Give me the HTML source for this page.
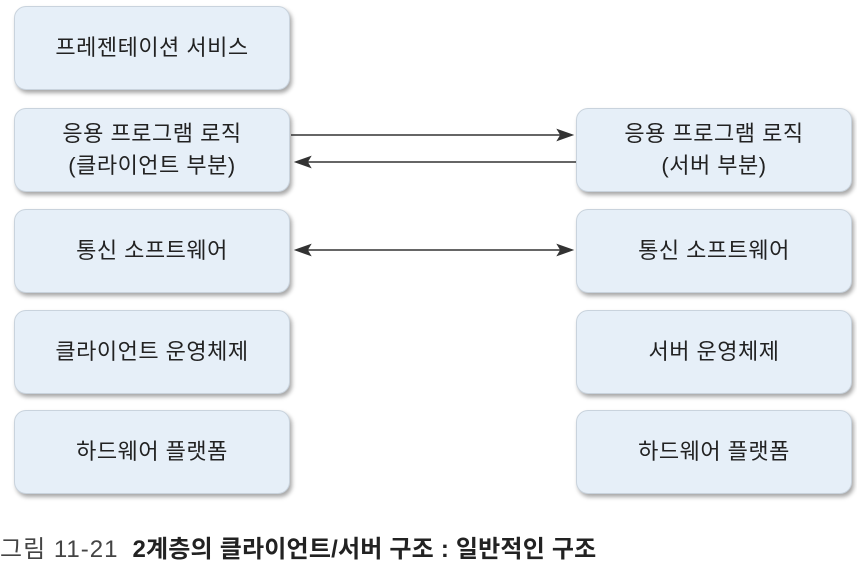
<!DOCTYPE html>
<html><head><meta charset="utf-8"><style>
body{margin:0;width:857px;height:557px;background:#fff;position:relative;overflow:hidden;font-family:"Liberation Sans","Noto Sans CJK KR",sans-serif;}
.b{position:absolute;width:274px;height:82px;background:#e6eff8;border:1px solid #c9d3dd;border-radius:12px;box-shadow:2px 3px 4px rgba(0,0,0,0.35);display:flex;align-items:center;justify-content:center;text-align:center;font-size:22px;line-height:32px;color:#222;letter-spacing:0.5px}
.l{left:14px}.r{left:576px}
.cap{position:absolute;left:0px;top:529px;font-size:24px;color:#444;white-space:nowrap;}
</style></head><body>
<div class="b l" style="top:6px">프레젠테이션 서비스</div>
<div class="b l" style="top:108px">응용 프로그램 로직<br>(클라이언트 부분)</div>
<div class="b l" style="top:209px">통신 소프트웨어</div>
<div class="b l" style="top:310px">클라이언트 운영체제</div>
<div class="b l" style="top:410px">하드웨어 플랫폼</div>
<div class="b r" style="top:108px">응용 프로그램 로직<br>(서버 부분)</div>
<div class="b r" style="top:209px">통신 소프트웨어</div>
<div class="b r" style="top:310px">서버 운영체제</div>
<div class="b r" style="top:410px">하드웨어 플랫폼</div>
<svg width="857" height="557" style="position:absolute;left:0;top:0">
<g stroke="#333" stroke-width="1.5" fill="#333">
<line x1="291" y1="135" x2="562" y2="135"/><polygon points="572,135 558,130 561,135 558,140" />
<line x1="307" y1="162" x2="576" y2="162"/><polygon points="296,162 310,157 307,162 310,167" />
<line x1="307" y1="250" x2="562" y2="250"/><polygon points="572,250 558,245 561,250 558,255" /><polygon points="296,250 310,245 307,250 310,255" />
</g></svg>
<div class="cap"><span style="letter-spacing:1px">그림 11-21</span><span style="display:inline-block;width:14px"></span><b style="color:#222;letter-spacing:0.2px">2계층의 클라이언트/서버 구조 : 일반적인 구조</b></div>
</body></html>
